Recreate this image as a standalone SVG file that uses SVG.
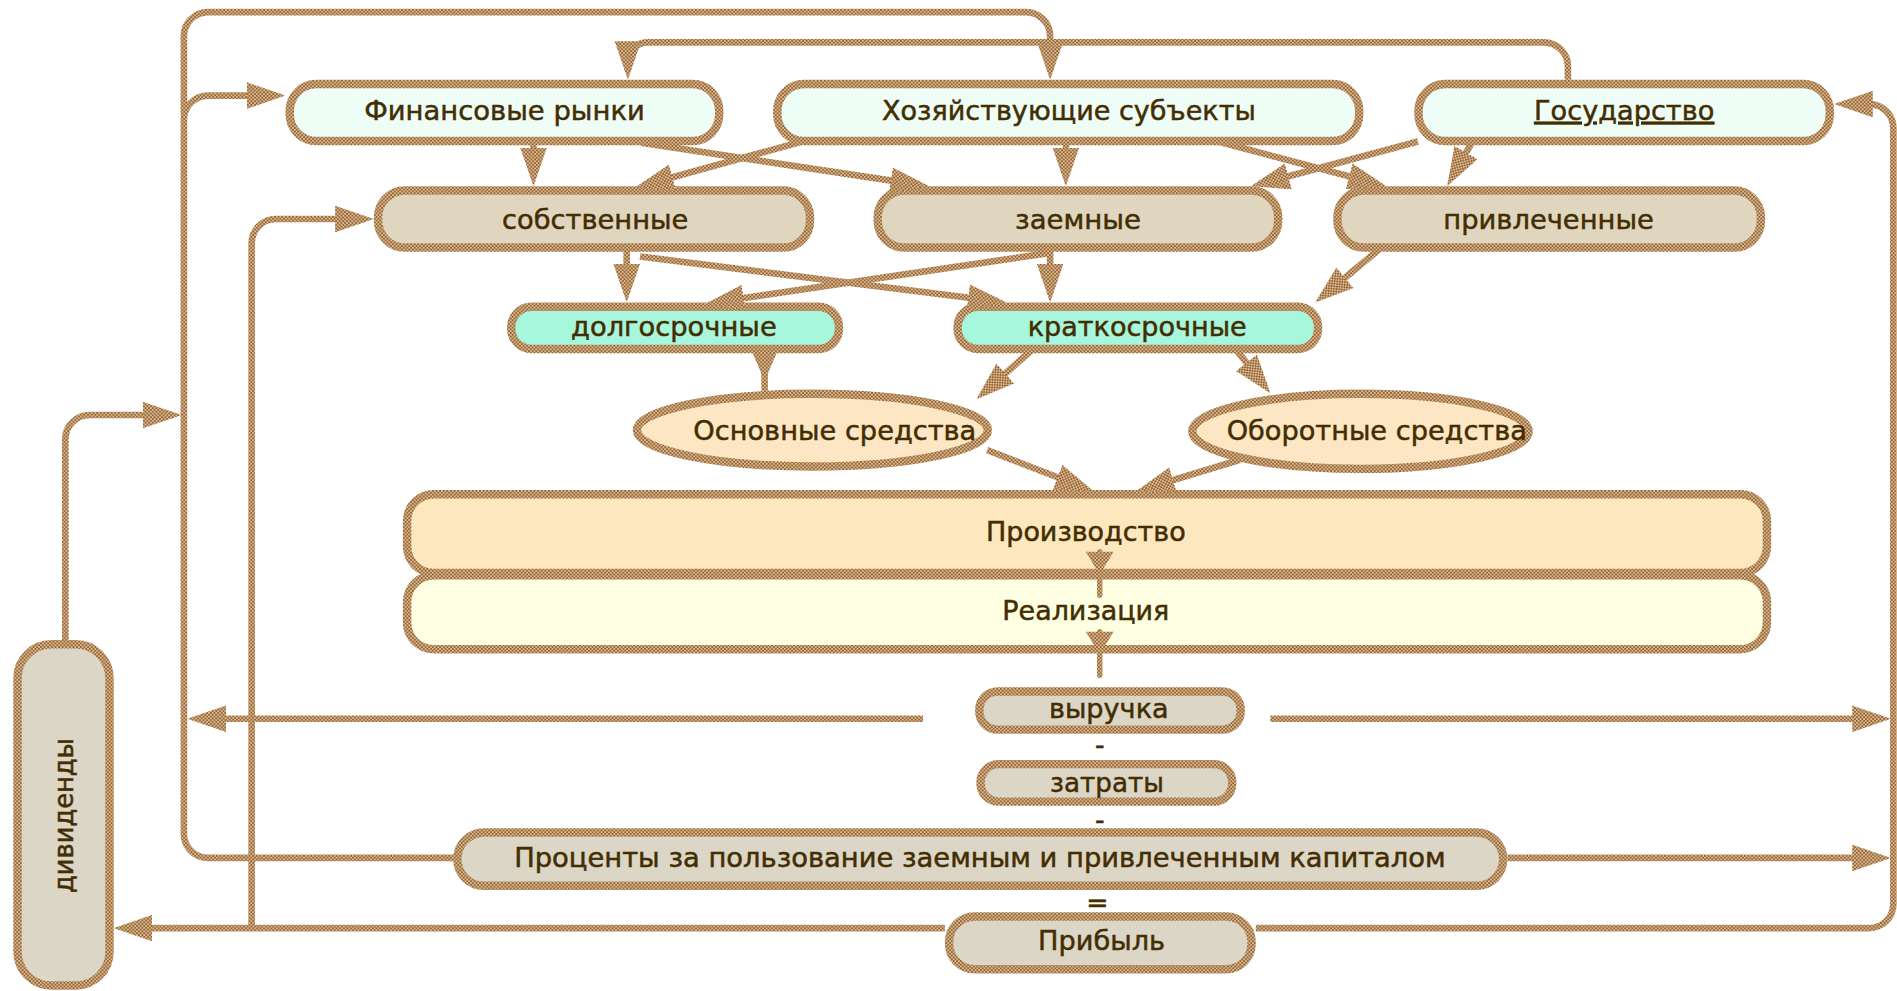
<svg xmlns="http://www.w3.org/2000/svg" width="1897" height="991" viewBox="0 0 1897 991">
<defs>
<pattern id="tex" width="3" height="3" patternUnits="userSpaceOnUse">
<rect width="3" height="3" fill="#d6bb98"/>
<rect width="1.5" height="1.5" fill="#9a6430"/>
<rect x="1.5" y="1.5" width="1.5" height="1.5" fill="#9a6430"/>
</pattern>
<marker id="ah" markerUnits="userSpaceOnUse" markerWidth="32" markerHeight="22" viewBox="0 0 32 22" refX="24" refY="11" orient="auto">
<path d="M0,0 L32,11 L0,22 z" fill="url(#tex)"/>
</marker>
<style>
.c{fill:none;stroke:url(#tex);stroke-width:5.5;stroke-linejoin:round}
.a{marker-end:url(#ah)}
.n{stroke:url(#tex);stroke-width:7}
.t{font-family:"DejaVu Sans","Verdana",sans-serif;font-size:22px;fill:#432d02;stroke:#432d02;stroke-width:0.4;text-anchor:middle}
.top{fill:#effdf7}
.mid{fill:#e0d6bf}
.grn{fill:#a7f7dc}
.ell{fill:#fde6c3}
.prod{fill:#fde7bf}
.real{fill:#fefee2}
.res{fill:#dcd6c6}
.ph{fill:url(#tex)}
</style>
</defs>
<rect width="1897" height="991" fill="#ffffff"/>
<g transform="scale(1.20982 1.21001)">
<g id="n-fin"><rect class="n top" x="239.5" y="69.5" width="355" height="47" rx="22"/><text class="t" x="417" y="99" textLength="232" lengthAdjust="spacingAndGlyphs">Финансовые рынки</text></g>
<g id="n-hoz"><rect class="n top" x="642.5" y="69.5" width="481" height="47" rx="22"/><text class="t" x="883.5" y="99" textLength="309" lengthAdjust="spacingAndGlyphs">Хозяйствующие субъекты</text></g>
<g id="n-gos"><rect class="n top" x="1172.5" y="69.5" width="340" height="47" rx="22"/><text class="t" x="1342.5" y="99" textLength="149" lengthAdjust="spacingAndGlyphs" text-decoration="underline">Государство</text></g>
<g id="n-sob"><rect class="n mid" x="312.5" y="157.5" width="357" height="47" rx="22"/><text class="t" x="492" y="189" textLength="154" lengthAdjust="spacingAndGlyphs">собственные</text></g>
<g id="n-zaem"><rect class="n mid" x="725.5" y="157.5" width="331" height="47" rx="22"/><text class="t" x="891" y="189" textLength="104" lengthAdjust="spacingAndGlyphs">заемные</text></g>
<g id="n-priv"><rect class="n mid" x="1105.5" y="157.5" width="350" height="47" rx="22"/><text class="t" x="1280" y="189" textLength="174" lengthAdjust="spacingAndGlyphs">привлеченные</text></g>
<g id="n-dolg"><rect class="n grn" x="422.5" y="253.5" width="271" height="35" rx="17"/><text class="t" x="557" y="278" textLength="170" lengthAdjust="spacingAndGlyphs">долгосрочные</text></g>
<g id="n-krat"><rect class="n grn" x="791.5" y="253.5" width="298" height="35" rx="17"/><text class="t" x="940" y="278" textLength="181" lengthAdjust="spacingAndGlyphs">краткосрочные</text></g>
<g id="n-osn"><ellipse class="n ell" cx="671.5" cy="355.5" rx="145" ry="30"/><text class="t" x="690" y="363.5" textLength="234" lengthAdjust="spacingAndGlyphs">Основные средства</text></g>
<g id="n-obor"><ellipse class="n ell" cx="1124.5" cy="356.5" rx="139" ry="31"/><text class="t" x="1138" y="363.5" textLength="248" lengthAdjust="spacingAndGlyphs">Оборотные средства</text></g>
<g id="n-prod"><rect class="n prod" x="336.5" y="408.5" width="1124" height="65" rx="22"/><text class="t" x="897.5" y="447.5" textLength="165" lengthAdjust="spacingAndGlyphs">Производство</text></g>
<g id="n-real"><rect class="n real" x="336.5" y="475.5" width="1124" height="61" rx="22"/><text class="t" x="897.5" y="512.5" textLength="138" lengthAdjust="spacingAndGlyphs">Реализация</text></g>
<g id="n-vyr"><rect class="n res" x="809.5" y="571.5" width="216" height="31.5" rx="15"/><text class="t" x="916.5" y="593.5" textLength="99" lengthAdjust="spacingAndGlyphs">выручка</text></g>
<g id="n-minus1"><text class="t" x="909" y="623">-</text></g>
<g id="n-zatr"><rect class="n res" x="810.5" y="631.5" width="208" height="31" rx="15"/><text class="t" x="915" y="654.5" textLength="94" lengthAdjust="spacingAndGlyphs">затраты</text></g>
<g id="n-minus2"><text class="t" x="909" y="685">-</text></g>
<g id="n-proc"><rect class="n res" x="378" y="688" width="864.5" height="44" rx="22"/><text class="t" x="810" y="716.5" textLength="770" lengthAdjust="spacingAndGlyphs">Проценты за пользование заемным и привлеченным капиталом</text></g>
<g id="n-eq"><text class="t" x="907" y="754">=</text></g>
<g id="n-prib"><rect class="n res" x="784.5" y="757.5" width="250" height="43.5" rx="21"/><text class="t" x="910.5" y="785" textLength="105" lengthAdjust="spacingAndGlyphs">Прибыль</text></g>
<g id="n-div"><rect class="n res" x="14.5" y="532.5" width="76" height="282" rx="28"/><text class="t" transform="translate(60 674) rotate(-90)" x="0" y="0" textLength="128" lengthAdjust="spacingAndGlyphs">дивиденды</text></g>
<g id="connectors">
<path class="c a" d="M441,119 V146"/>
<path class="c a" d="M530,118 L760.1,152.8"/>
<path class="c a" d="M663,117 L532.7,152.9"/>
<path class="c a" d="M881,119 V146"/>
<path class="c a" d="M1007,117 L1138.3,151.9"/>
<path class="c a" d="M1172,117 L1041.7,151.9"/>
<path class="c a" d="M1217,117 L1200,147"/>
<path class="c a" d="M518,207 V242"/>
<path class="c a" d="M529,212 L824.1,249"/>
<path class="c a" d="M868,209 L590.9,249.8"/>
<path class="c a" d="M868,207 V242"/>
<path class="c a" d="M1140,206 L1093.2,244.9"/>
<path class="c" d="M632,290 V323"/>
<polygon class="ph" points="620.5,288 643.5,288 632,315"/>
<path class="c a" d="M853,289 L813,324.7"/>
<path class="c a" d="M1021,288 L1045.1,318.7"/>
<path class="c a" d="M816,372 L896.5,403.1"/>
<path class="c a" d="M1025,380 L946.7,403.7"/>
<path class="c" style="stroke-width:4.5;stroke-linecap:round" d="M909,456 V492"/>
<polygon class="ph" points="897.5,456 920.5,456 909,475"/>
<path class="c" style="stroke-width:4.5;stroke-linecap:round" d="M909,522 V558"/>
<polygon class="ph" points="897.5,522 920.5,522 909,541"/>
<path class="c a" d="M152,95 V30 A20,20 0 0 1 172,10 H848 A20,20 0 0 1 868,30 V58"/>
<path class="c a" d="M1296,66 V55 A20,20 0 0 0 1276,35 H535 A16,16 0 0 0 519,51 V58"/>
<path class="c a" d="M375,709 H172 A20,20 0 0 1 152,689 V99 A20,20 0 0 1 172,79 H228"/>
<path class="c a" d="M54,529 V363 A20,20 0 0 1 74,343 H142"/>
<path class="c a" d="M208,767 V201 A20,20 0 0 1 228,181 H301"/>
<path class="c a" d="M781,767 H102"/>
<path class="c a" d="M1038,767 H1545 A20,20 0 0 0 1565,747 V106 A20,20 0 0 0 1545,86 H1524"/>
<path class="c a" d="M763,594 H163"/>
<path class="c a" d="M1050,594 H1555"/>
<path class="c a" d="M1246,709 H1555"/>
</g>
</g>
</svg>
